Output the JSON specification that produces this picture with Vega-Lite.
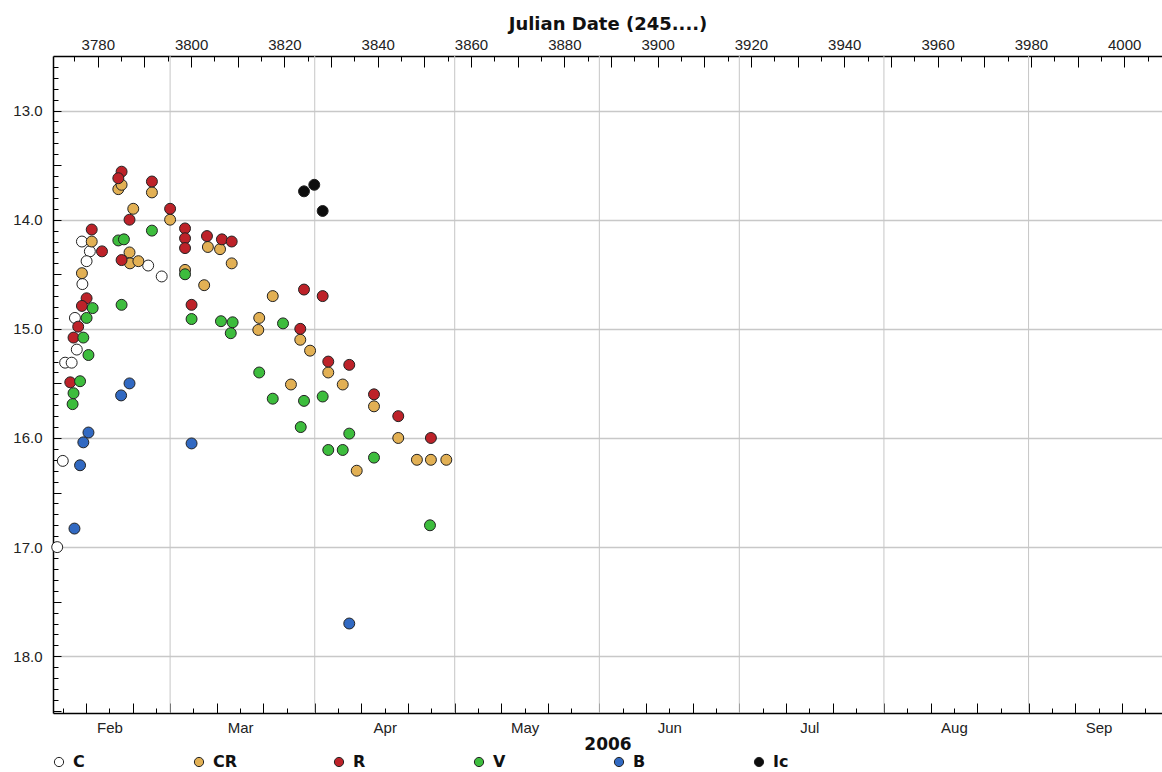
{
  "$schema": "https://vega.github.io/schema/vega-lite/v6.json",
  "width": 1109,
  "height": 657,
  "autosize": "none",
  "padding": {"left": 53, "top": 56, "right": 0, "bottom": 59},
  "background": "white",
  "config": {
    "view": {"stroke": null},
    "font": "Liberation Sans",
    "axis": {
      "labelFont": "Liberation Sans",
      "labelFontSize": 15,
      "labelColor": "#222",
      "labelFlush": false,
      "labelOverlap": false,
      "domainColor": "#000",
      "domainWidth": 1.5,
      "tickColor": "#000",
      "tickWidth": 1,
      "titleFont": "DejaVu Sans",
      "titleFontWeight": "bold",
      "titleColor": "#111"
    }
  },
  "layer": [
    {
      "data": {"values": [
        {"jd": 3795.5, "month": "Mar"},
        {"jd": 3826.5, "month": "Apr"},
        {"jd": 3856.5, "month": "May"},
        {"jd": 3887.5, "month": "Jun"},
        {"jd": 3917.5, "month": "Jul"},
        {"jd": 3948.5, "month": "Aug"},
        {"jd": 3979.5, "month": "Sep"}
      ]},
      "mark": {"type": "rule", "color": "#c6c6c6", "strokeWidth": 1},
      "encoding": {
        "x": {
          "field": "jd",
          "type": "quantitative",
          "scale": {"domain": [3770.4, 4008.1], "nice": false, "zero": false},
          "axis": {
            "orient": "bottom",
            "grid": false,
            "values": [3772.5, 3777.5, 3782.5, 3787.5, 3792.5, 3795.5, 3800.5, 3805.5, 3810.5, 3815.5, 3820.5, 3826.5, 3831.5, 3836.5, 3841.5, 3846.5, 3851.5, 3856.5, 3861.5, 3866.5, 3871.5, 3876.5, 3881.5, 3887.5, 3892.5, 3897.5, 3902.5, 3907.5, 3912.5, 3917.5, 3922.5, 3927.5, 3932.5, 3937.5, 3942.5, 3948.5, 3953.5, 3958.5, 3963.5, 3968.5, 3973.5, 3979.5, 3984.5, 3989.5, 3994.5, 3999.5, 4004.5],
            "labelExpr": "utcdate((datum.value+9412.5)*86400000)==16 ? utcFormat((datum.value+9412.5)*86400000,'%b') : ''",
            "tickSize": {"condition": {"test": "utcdate((datum.value+9412.5)*86400000)==11 || utcdate((datum.value+9412.5)*86400000)==21 || utcdate((datum.value+9412.5)*86400000)==1", "value": -10}, "value": -5},
            "labelPadding": 12,
            "labelFontSize": 15,
            "title": "2006",
            "titleFontSize": 17,
            "titlePadding": 1
          }
        }
      }
    },
    {
      "data": {"values": [
        {"band": "C", "jd": 3771.3, "mag": 17.0},
        {"band": "C", "jd": 3772.5, "mag": 16.21},
        {"band": "C", "jd": 3773.0, "mag": 15.31},
        {"band": "C", "jd": 3774.4, "mag": 15.31},
        {"band": "C", "jd": 3775.5, "mag": 15.19},
        {"band": "C", "jd": 3775.1, "mag": 14.9},
        {"band": "C", "jd": 3776.7, "mag": 14.59},
        {"band": "C", "jd": 3776.6, "mag": 14.2},
        {"band": "C", "jd": 3778.3, "mag": 14.29},
        {"band": "C", "jd": 3777.6, "mag": 14.38},
        {"band": "C", "jd": 3790.8, "mag": 14.42},
        {"band": "C", "jd": 3793.7, "mag": 14.52},
        {"band": "CR", "jd": 3776.6, "mag": 14.49},
        {"band": "CR", "jd": 3778.7, "mag": 14.2},
        {"band": "CR", "jd": 3784.4, "mag": 13.72},
        {"band": "CR", "jd": 3785.1, "mag": 13.68},
        {"band": "CR", "jd": 3791.6, "mag": 13.75},
        {"band": "CR", "jd": 3787.6, "mag": 13.9},
        {"band": "CR", "jd": 3795.5, "mag": 14.0},
        {"band": "CR", "jd": 3786.8, "mag": 14.3},
        {"band": "CR", "jd": 3786.9, "mag": 14.4},
        {"band": "CR", "jd": 3788.7, "mag": 14.38},
        {"band": "CR", "jd": 3798.7, "mag": 14.46},
        {"band": "CR", "jd": 3802.8, "mag": 14.6},
        {"band": "CR", "jd": 3803.6, "mag": 14.25},
        {"band": "CR", "jd": 3806.2, "mag": 14.27},
        {"band": "CR", "jd": 3808.7, "mag": 14.4},
        {"band": "CR", "jd": 3814.6, "mag": 14.9},
        {"band": "CR", "jd": 3814.4, "mag": 15.01},
        {"band": "CR", "jd": 3817.5, "mag": 14.7},
        {"band": "CR", "jd": 3823.4, "mag": 15.1},
        {"band": "CR", "jd": 3825.5, "mag": 15.2},
        {"band": "CR", "jd": 3821.4, "mag": 15.51},
        {"band": "CR", "jd": 3829.4, "mag": 15.4},
        {"band": "CR", "jd": 3832.5, "mag": 15.51},
        {"band": "CR", "jd": 3835.5, "mag": 16.3},
        {"band": "CR", "jd": 3839.2, "mag": 15.71},
        {"band": "CR", "jd": 3844.4, "mag": 16.0},
        {"band": "CR", "jd": 3848.4, "mag": 16.2},
        {"band": "CR", "jd": 3851.4, "mag": 16.2},
        {"band": "CR", "jd": 3854.7, "mag": 16.2},
        {"band": "R", "jd": 3778.7, "mag": 14.09},
        {"band": "R", "jd": 3780.9, "mag": 14.29},
        {"band": "R", "jd": 3777.6, "mag": 14.72},
        {"band": "R", "jd": 3776.6, "mag": 14.79},
        {"band": "R", "jd": 3775.8, "mag": 14.98},
        {"band": "R", "jd": 3774.8, "mag": 15.08},
        {"band": "R", "jd": 3774.1, "mag": 15.49},
        {"band": "R", "jd": 3785.1, "mag": 13.56},
        {"band": "R", "jd": 3784.4, "mag": 13.62},
        {"band": "R", "jd": 3791.6, "mag": 13.65},
        {"band": "R", "jd": 3786.8, "mag": 14.0},
        {"band": "R", "jd": 3795.5, "mag": 13.9},
        {"band": "R", "jd": 3798.7, "mag": 14.08},
        {"band": "R", "jd": 3798.7, "mag": 14.17},
        {"band": "R", "jd": 3798.7, "mag": 14.26},
        {"band": "R", "jd": 3803.4, "mag": 14.15},
        {"band": "R", "jd": 3806.6, "mag": 14.18},
        {"band": "R", "jd": 3808.7, "mag": 14.2},
        {"band": "R", "jd": 3785.1, "mag": 14.37},
        {"band": "R", "jd": 3800.1, "mag": 14.78},
        {"band": "R", "jd": 3824.2, "mag": 14.64},
        {"band": "R", "jd": 3828.2, "mag": 14.7},
        {"band": "R", "jd": 3823.4, "mag": 15.0},
        {"band": "R", "jd": 3829.4, "mag": 15.3},
        {"band": "R", "jd": 3833.9, "mag": 15.33},
        {"band": "R", "jd": 3839.2, "mag": 15.6},
        {"band": "R", "jd": 3844.4, "mag": 15.8},
        {"band": "R", "jd": 3851.4, "mag": 16.0},
        {"band": "V", "jd": 3778.9, "mag": 14.81},
        {"band": "V", "jd": 3777.6, "mag": 14.9},
        {"band": "V", "jd": 3776.9, "mag": 15.08},
        {"band": "V", "jd": 3778.0, "mag": 15.24},
        {"band": "V", "jd": 3776.2, "mag": 15.48},
        {"band": "V", "jd": 3774.8, "mag": 15.59},
        {"band": "V", "jd": 3774.6, "mag": 15.69},
        {"band": "V", "jd": 3784.4, "mag": 14.19},
        {"band": "V", "jd": 3785.6, "mag": 14.18},
        {"band": "V", "jd": 3791.6, "mag": 14.1},
        {"band": "V", "jd": 3798.7, "mag": 14.5},
        {"band": "V", "jd": 3785.1, "mag": 14.78},
        {"band": "V", "jd": 3800.1, "mag": 14.91},
        {"band": "V", "jd": 3806.4, "mag": 14.93},
        {"band": "V", "jd": 3808.9, "mag": 14.94},
        {"band": "V", "jd": 3808.5, "mag": 15.04},
        {"band": "V", "jd": 3819.7, "mag": 14.95},
        {"band": "V", "jd": 3814.6, "mag": 15.4},
        {"band": "V", "jd": 3817.5, "mag": 15.64},
        {"band": "V", "jd": 3824.2, "mag": 15.66},
        {"band": "V", "jd": 3828.2, "mag": 15.62},
        {"band": "V", "jd": 3823.5, "mag": 15.9},
        {"band": "V", "jd": 3833.9, "mag": 15.96},
        {"band": "V", "jd": 3829.4, "mag": 16.11},
        {"band": "V", "jd": 3832.5, "mag": 16.11},
        {"band": "V", "jd": 3839.2, "mag": 16.18},
        {"band": "V", "jd": 3851.2, "mag": 16.8},
        {"band": "B", "jd": 3778.0, "mag": 15.95},
        {"band": "B", "jd": 3776.9, "mag": 16.04},
        {"band": "B", "jd": 3776.2, "mag": 16.25},
        {"band": "B", "jd": 3775.0, "mag": 16.83},
        {"band": "B", "jd": 3786.8, "mag": 15.5},
        {"band": "B", "jd": 3785.0, "mag": 15.61},
        {"band": "B", "jd": 3800.1, "mag": 16.05},
        {"band": "B", "jd": 3833.9, "mag": 17.7},
        {"band": "Ic", "jd": 3824.2, "mag": 13.74},
        {"band": "Ic", "jd": 3826.4, "mag": 13.68},
        {"band": "Ic", "jd": 3828.2, "mag": 13.92}
      ]},
      "mark": {"type": "circle", "size": 120, "opacity": 1, "stroke": "#222", "strokeWidth": 1},
      "encoding": {
        "x": {
          "field": "jd",
          "type": "quantitative",
          "scale": {"domain": [3770.4, 4008.1], "nice": false, "zero": false},
          "axis": {
            "orient": "top",
            "grid": false,
            "values": [3775, 3780, 3785, 3790, 3795, 3800, 3805, 3810, 3815, 3820, 3825, 3830, 3835, 3840, 3845, 3850, 3855, 3860, 3865, 3870, 3875, 3880, 3885, 3890, 3895, 3900, 3905, 3910, 3915, 3920, 3925, 3930, 3935, 3940, 3945, 3950, 3955, 3960, 3965, 3970, 3975, 3980, 3985, 3990, 3995, 4000, 4005],
            "labelExpr": "datum.value % 20 == 0 ? format(datum.value, 'd') : ''",
            "tickSize": {"condition": {"test": "datum.value % 10 == 0", "value": -11}, "value": -5},
            "labelPadding": 15,
            "title": "Julian Date (245....)",
            "titleFontSize": 18,
            "titlePadding": -2
          }
        },
        "y": {
          "field": "mag",
          "type": "quantitative",
          "scale": {"domain": [12.5, 18.52], "reverse": true, "nice": false, "zero": false},
          "axis": {
            "orient": "left",
            "title": null,
            "values": [12.6, 12.7, 12.8, 12.9, 13.0, 13.1, 13.2, 13.3, 13.4, 13.5, 13.6, 13.7, 13.8, 13.9, 14.0, 14.1, 14.2, 14.3, 14.4, 14.5, 14.6, 14.7, 14.8, 14.9, 15.0, 15.1, 15.2, 15.3, 15.4, 15.5, 15.6, 15.7, 15.8, 15.9, 16.0, 16.1, 16.2, 16.3, 16.4, 16.5, 16.6, 16.7, 16.8, 16.9, 17.0, 17.1, 17.2, 17.3, 17.4, 17.5, 17.6, 17.7, 17.8, 17.9, 18.0, 18.1, 18.2, 18.3, 18.4, 18.5],
            "labelExpr": "abs(datum.value - round(datum.value)) < 0.001 ? format(datum.value, '.1f') : ''",
            "tickSize": {"condition": {"test": "abs(datum.value*2 - round(datum.value*2)) < 0.001", "value": -8}, "value": -5},
            "labelPadding": 19,
            "grid": true,
            "gridColor": "#c8c8c8",
            "gridWidth": 1.5,
            "gridOpacity": {"condition": {"test": "abs(datum.value - round(datum.value)) < 0.001", "value": 1}, "value": 0}
          }
        },
        "fill": {
          "field": "band",
          "type": "nominal",
          "scale": {"domain": ["C", "CR", "R", "V", "B", "Ic"], "range": ["#ffffff", "#e2b054", "#bd2229", "#3dbd3d", "#3169c2", "#0d0d0d"]},
          "legend": {
            "orient": "none",
            "legendX": -2,
            "legendY": 698,
            "direction": "horizontal",
            "columns": 6,
            "gridAlign": "all",
            "columnPadding": 93,
            "title": null,
            "symbolType": "circle",
            "symbolSize": 85,
            "symbolStrokeColor": "#222",
            "symbolStrokeWidth": 1,
            "symbolOpacity": 1,
            "labelFont": "DejaVu Sans",
            "labelFontWeight": "bold",
            "labelFontSize": 16,
            "labelColor": "#111",
            "labelOffset": 6
          }
        }
      }
    }
  ],
  "resolve": {"axis": {"x": "independent"}}
}
